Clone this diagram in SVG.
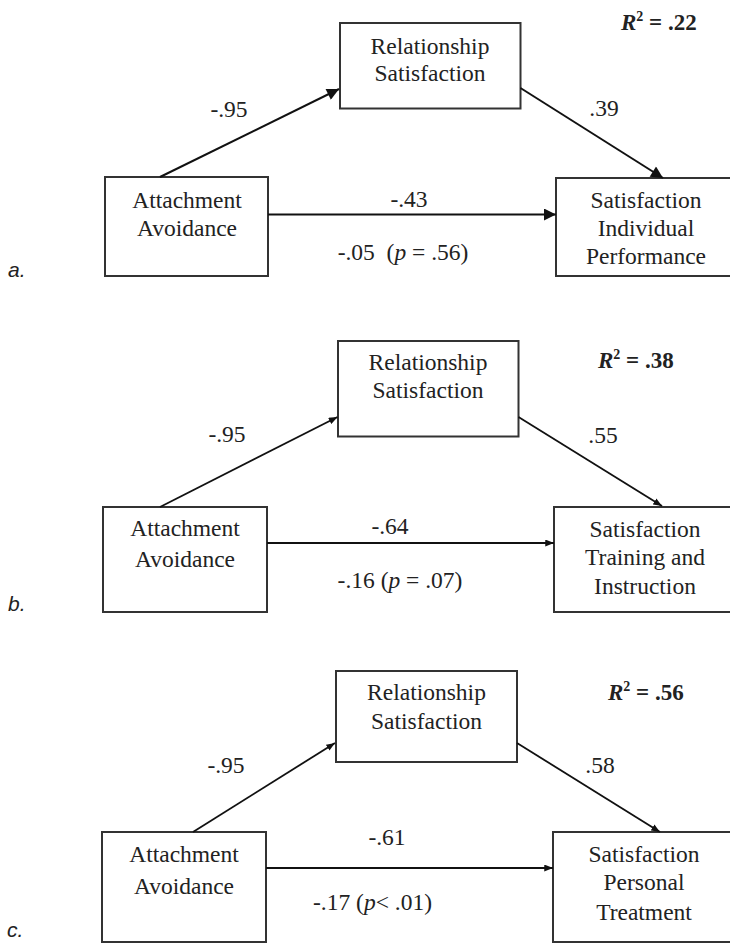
<svg xmlns="http://www.w3.org/2000/svg" width="730" height="944" viewBox="0 0 730 944">
<style>
.box{fill:#fff;stroke:#333;stroke-width:2}
.t{font-family:"Liberation Serif","Times New Roman",serif;font-size:23.5px;fill:#222;text-anchor:middle}
.ts{font-family:"Liberation Serif","Times New Roman",serif;font-size:23.5px;fill:#222}
.r2{font-family:"Liberation Serif","Times New Roman",serif;font-size:23px;font-weight:bold;fill:#222}
.pl{font-family:"Liberation Sans",Arial,sans-serif;font-size:21px;font-style:italic;fill:#222}
.ln{stroke:#111;stroke-width:2;fill:none}
.ln2{stroke:#111;stroke-width:1.8;fill:none}
</style>
<defs>
<marker id="ha" viewBox="0 0 12 12" refX="12" refY="6" markerWidth="13" markerHeight="12" markerUnits="userSpaceOnUse" orient="auto"><path d="M0,0 L12,6 L0,12 z" fill="#111"/></marker>
<marker id="hb" viewBox="0 0 10 8" refX="10" refY="4" markerWidth="9" markerHeight="7" markerUnits="userSpaceOnUse" orient="auto"><path d="M0,0 L10,4 L0,8 z" fill="#111"/></marker>
</defs>

<!-- Panel a -->
<g id="a-label"><text class="pl" x="8" y="277">a.</text></g>
<g id="a-r2"><text class="r2" x="621" y="30"><tspan font-style="italic">R</tspan><tspan font-size="14" dy="-9">2</tspan><tspan dy="9"> = .22</tspan></text></g>
<g id="a-rel"><rect class="box" x="340" y="23" width="180.5" height="85.5"/><text class="t" x="430" y="54">Relationship</text><text class="t" x="430" y="81">Satisfaction</text></g>
<g id="a-att"><rect class="box" x="105" y="177" width="163" height="99"/><text class="t" x="187" y="208">Attachment</text><text class="t" x="187" y="236">Avoidance</text></g>
<g id="a-sat"><rect class="box" x="556" y="178" width="182" height="98"/><text class="t" x="646" y="208">Satisfaction</text><text class="t" x="646" y="236">Individual</text><text class="t" x="646" y="264">Performance</text></g>
<g id="a-connectors">
<line class="ln" x1="160" y1="177" x2="339" y2="89" marker-end="url(#ha)"/>
<line class="ln" x1="520.5" y1="88" x2="663" y2="178" marker-end="url(#ha)"/>
<line class="ln" x1="268" y1="214.5" x2="556" y2="214.5" marker-end="url(#ha)"/>
<text class="t" x="229" y="117">-.95</text>
<text class="t" x="604" y="116">.39</text>
<text class="t" x="409" y="207">-.43</text>
<text class="t" x="403" y="260" xml:space="preserve">-.05  (<tspan font-style="italic">p</tspan> = .56)</text>
</g>

<!-- Panel b -->
<g id="b-label"><text class="pl" x="8" y="611">b.</text></g>
<g id="b-r2"><text class="r2" x="598" y="368"><tspan font-style="italic">R</tspan><tspan font-size="14" dy="-9">2</tspan><tspan dy="9"> = .38</tspan></text></g>
<g id="b-rel"><rect class="box" x="338" y="341" width="180.5" height="95.5"/><text class="t" x="428" y="370">Relationship</text><text class="t" x="428" y="398">Satisfaction</text></g>
<g id="b-att"><rect class="box" x="103" y="507" width="164" height="105"/><text class="t" x="185" y="536">Attachment</text><text class="t" x="185" y="567">Avoidance</text></g>
<g id="b-sat"><rect class="box" x="554" y="507" width="182" height="105"/><text class="t" x="645" y="537">Satisfaction</text><text class="t" x="645" y="565">Training and</text><text class="t" x="645" y="594">Instruction</text></g>
<g id="b-connectors">
<line class="ln2" x1="160" y1="507" x2="337.5" y2="417" marker-end="url(#hb)"/>
<line class="ln2" x1="518.5" y1="417" x2="662" y2="506" marker-end="url(#hb)"/>
<line class="ln2" x1="267" y1="543" x2="554" y2="543" marker-end="url(#hb)"/>
<text class="t" x="227" y="442">-.95</text>
<text class="t" x="603" y="443">.55</text>
<text class="t" x="390" y="534">-.64</text>
<text class="t" x="400" y="588">-.16 (<tspan font-style="italic">p</tspan> = .07)</text>
</g>

<!-- Panel c -->
<g id="c-label"><text class="pl" x="7" y="937">c.</text></g>
<g id="c-r2"><text class="r2" x="608" y="700"><tspan font-style="italic">R</tspan><tspan font-size="14" dy="-9">2</tspan><tspan dy="9"> = .56</tspan></text></g>
<g id="c-rel"><rect class="box" x="336" y="671" width="181" height="91"/><text class="t" x="426.5" y="700">Relationship</text><text class="t" x="426.5" y="729">Satisfaction</text></g>
<g id="c-att"><rect class="box" x="102" y="832" width="164" height="110"/><text class="t" x="184" y="862">Attachment</text><text class="t" x="184" y="894">Avoidance</text></g>
<g id="c-sat"><rect class="box" x="553" y="832" width="183" height="110"/><text class="t" x="644" y="862">Satisfaction</text><text class="t" x="644" y="890">Personal</text><text class="t" x="644" y="920">Treatment</text></g>
<g id="c-connectors">
<line class="ln2" x1="193" y1="832" x2="335" y2="743" marker-end="url(#hb)"/>
<line class="ln2" x1="517" y1="743" x2="660" y2="832" marker-end="url(#hb)"/>
<line class="ln2" x1="266" y1="868" x2="553" y2="868" marker-end="url(#hb)"/>
<text class="t" x="226" y="773">-.95</text>
<text class="t" x="600" y="773">.58</text>
<text class="t" x="387" y="845">-.61</text>
<text class="ts" x="313" y="910">-.17 (<tspan font-style="italic">p</tspan>&lt; .01)</text>
</g>
</svg>
